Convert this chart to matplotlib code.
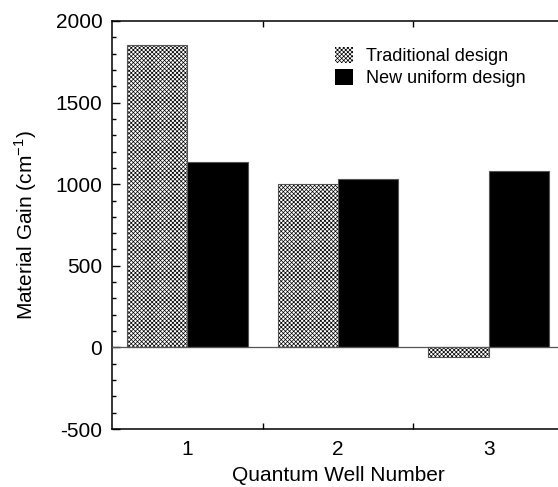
import matplotlib
matplotlib.use("Agg")
import matplotlib.pyplot as plt
import numpy as np

plt.rcParams['font.family'] = ['Liberation Sans', 'DejaVu Sans']
plt.rcParams['hatch.linewidth'] = 0.5

wells = [1, 2, 3]
traditional = [1850, 1000, -60]
uniform = [1135, 1030, 1078]
series_labels = ["Traditional design", "New uniform design"]
y_ticks = [-500, 0, 500, 1000, 1500, 2000]

fig = plt.figure(figsize=(5.58, 4.87), dpi=100)
ax = fig.add_axes([0.2007, 0.119, 0.8101, 0.838])

x = np.array(wells, dtype=float)
w = 0.4
hatch = 'x' * 8
# hatched fill (black hatch lines) plus a separate grey outline
ax.bar(x - w / 2, traditional, width=w, facecolor='white', edgecolor='black',
       linewidth=0, hatch=hatch, zorder=2)
ax.bar(x - w / 2, traditional, width=w, fill=False, edgecolor='#555555',
       linewidth=0.8, zorder=2.1)
ax.bar(x + w / 2, uniform, width=w, facecolor='black', edgecolor='#555555',
       linewidth=0.8, zorder=2)
ax.axhline(0, color='#555555', linewidth=0.9, zorder=3)

ax.set_xlim(0.5, 3.5)
ax.set_ylim(-500, 2000)
ax.set_xticks(wells)
ax.set_xticks([1.5, 2.5], minor=True)
ax.set_yticks(y_ticks)
ax.set_yticklabels([str(v) for v in y_ticks])
ax.set_yticks(np.arange(-400, 2000, 100), minor=True)

ax.tick_params(axis='x', which='major', length=0, pad=8, labelsize=15)
ax.tick_params(axis='x', which='minor', direction='in', length=4.5, width=1.0,
               top=True, bottom=True)
ax.tick_params(axis='y', which='major', direction='in', length=6, width=1.0,
               pad=7, labelsize=15, left=True, right=False)
ax.tick_params(axis='y', which='minor', direction='in', length=3, width=1.0,
               left=True, right=False)
for s in ax.spines.values():
    s.set_linewidth(1.1)

ax.set_xlabel("Quantum Well Number", fontsize=15, labelpad=5)
ax.set_ylabel("Material Gain (cm$^{\\mathregular{-1}}$)", fontsize=15, labelpad=12)

legend_handles = [
    matplotlib.patches.Patch(facecolor='white', edgecolor='black', linewidth=0,
                             hatch=hatch),
    matplotlib.patches.Patch(facecolor='black', edgecolor='black', linewidth=0),
]
ax.legend(legend_handles, series_labels, loc='upper left',
          bbox_to_anchor=(0.493, 0.935), frameon=False,
          fontsize=13, handlelength=1.0, handleheight=0.95, handletextpad=0.7,
          labelspacing=0.2, borderpad=0, borderaxespad=0)

fig.savefig("out.png", dpi=100)
